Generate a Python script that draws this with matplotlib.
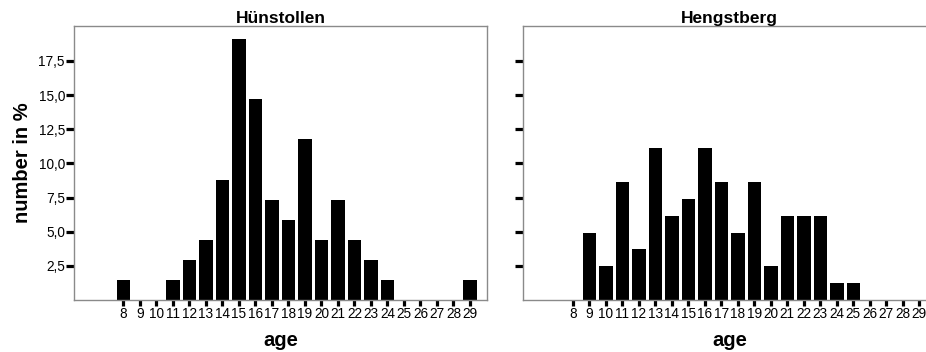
import numpy as np
import matplotlib
matplotlib.use("Agg")
from matplotlib import pyplot as plt

plt.rcParams['font.family'] = ['Liberation Sans', 'DejaVu Sans']

# Age categories shown on the x axis
ages = list(range(8, 30))

# Hünstollen: percent per age
huen_ages = [8, 11, 12, 13, 14, 15, 16, 17, 18, 19, 20, 21, 22, 23, 24, 29]
huen_pct = [1.47, 1.47, 2.94, 4.41, 8.82, 19.12, 14.71, 7.35, 5.88, 11.76,
            4.41, 7.35, 4.41, 2.94, 1.47, 1.47]

# Hengstberg: percent per age
heng_ages = [9, 10, 11, 12, 13, 14, 15, 16, 17, 18, 19, 20, 21, 22, 23, 24, 25]
heng_pct = [4.94, 2.47, 8.64, 3.70, 11.11, 6.17, 7.41, 11.11, 8.64, 4.94,
            8.64, 2.47, 6.17, 6.17, 6.17, 1.23, 1.23]

y_ticks = [2.5, 5.0, 7.5, 10.0, 12.5, 15.0, 17.5]
y_labels = ["2,5", "5,0", "7,5", "10,0", "12,5", "15,0", "17,5"]

fig = plt.figure(figsize=(9.26, 3.52), dpi=100)
ax1 = fig.add_axes([0.0799, 0.1477, 0.446, 0.778])
ax2 = fig.add_axes([0.5651, 0.1477, 0.446, 0.778])

def draw_panel(ax, xs, vals, title, show_labels):
    ax.bar(xs, vals, width=0.82, color="black", edgecolor="none")
    ax.set_xlim(5, 30.03)
    ax.set_ylim(0, 20.05)
    ax.set_xticks(ages)
    ax.set_xticklabels([str(a) for a in ages], fontsize=9.8)
    ax.set_yticks(y_ticks)
    if show_labels:
        ax.set_yticklabels(y_labels, fontsize=9.8)
    else:
        ax.set_yticklabels([])
    ax.tick_params(axis="y", length=5.5, width=2.3, color="black", pad=1)
    ax.tick_params(axis="x", length=4, width=2.3, color="black", pad=1)
    for s in ax.spines.values():
        s.set_color("#8a8a8a")
        s.set_linewidth(1.0)
    ax.set_title(title, fontsize=12.5, fontweight="bold", pad=2)
    ax.set_xlabel("age", fontsize=14.5, fontweight="bold", labelpad=7)

draw_panel(ax1, huen_ages, huen_pct, "Hünstollen", True)
draw_panel(ax2, heng_ages, heng_pct, "Hengstberg", False)
ax1.set_ylabel("number in %", fontsize=14.5, fontweight="bold", labelpad=5)

fig.savefig("out.png", dpi=100)
